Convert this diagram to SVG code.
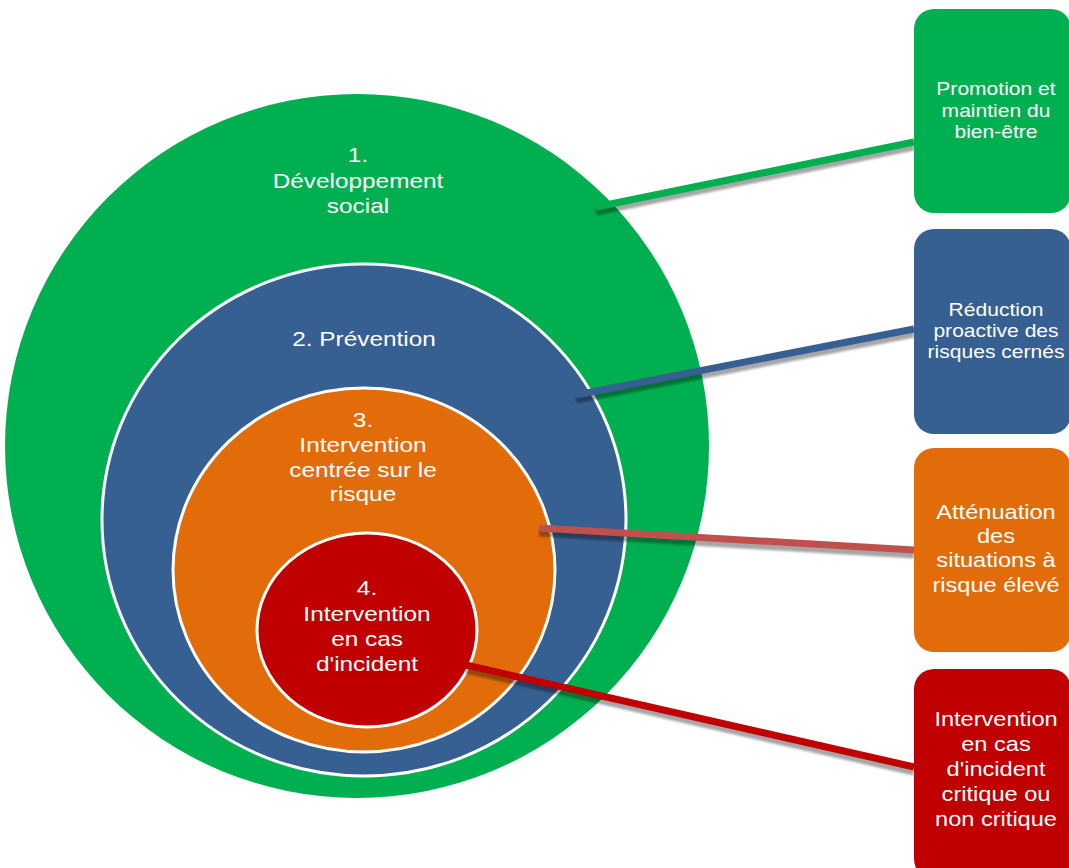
<svg xmlns="http://www.w3.org/2000/svg" width="1069" height="868" viewBox="0 0 1069 868">
<style>
text{font-family:"Liberation Sans",Arial,sans-serif;fill:#FFFFFF;text-anchor:middle}
.c{font-size:21px}
.bs{font-size:18px}
.bl{font-size:20px}
.ring{stroke:#FFFFFF;stroke-width:3}
.sh{stroke:#000000;stroke-opacity:0.35;stroke-width:7;fill:none}
.ln{stroke-width:7;fill:none}
</style>
<defs>
<filter id="blur" x="-5%" y="-50%" width="110%" height="200%"><feGaussianBlur stdDeviation="0.8"/></filter>
</defs>
<rect width="1069" height="868" fill="#FFFFFF"/>

<g id="circle1">
<ellipse cx="357" cy="446" rx="352" ry="352" fill="#00B050"/>
<g transform="translate(358,0) scale(1.16,1)">
<text class="c" x="0" y="162">1.</text>
<text class="c" x="0" y="188">Développement</text>
<text class="c" x="0" y="213">social</text>
</g>
</g>

<g id="circle2">
<ellipse class="ring" cx="364" cy="520" rx="262" ry="256" fill="#376092"/>
<g transform="translate(364,0) scale(1.16,1)">
<text class="c" x="0" y="346">2. Prévention</text>
</g>
</g>

<g id="circle3">
<ellipse class="ring" cx="364" cy="570" rx="191" ry="182" fill="#E36C0A"/>
<g transform="translate(363,0) scale(1.16,1)">
<text class="c" x="0" y="427">3.</text>
<text class="c" x="0" y="452">Intervention</text>
<text class="c" x="0" y="477">centrée sur le</text>
<text class="c" x="0" y="501">risque</text>
</g>
</g>

<g id="circle4">
<ellipse class="ring" cx="367" cy="630" rx="110" ry="97" fill="#C00000"/>
<g transform="translate(367,0) scale(1.16,1)">
<text class="c" x="0" y="595">4.</text>
<text class="c" x="0" y="621">Intervention</text>
<text class="c" x="0" y="646">en cas</text>
<text class="c" x="0" y="671">d'incident</text>
</g>
</g>

<g id="connectors">
<g filter="url(#blur)">
<line class="sh" x1="596" y1="212" x2="914" y2="147"/>
<line class="sh" x1="576" y1="400" x2="914" y2="334"/>
<line class="sh" x1="539" y1="533" x2="914" y2="555"/>
<line class="sh" x1="466" y1="670" x2="914" y2="772"/>
</g>
<line class="ln" x1="596" y1="207" x2="914" y2="142" stroke="#00B050"/>
<line class="ln" x1="576" y1="395" x2="914" y2="329" stroke="#376092"/>
<line class="ln" x1="539" y1="528" x2="914" y2="550" stroke="#C0504D"/>
<line class="ln" x1="466" y1="665" x2="914" y2="767" stroke="#C00000"/>
</g>

<g id="box1">
<rect x="914" y="9" width="157" height="204" rx="20" fill="#00B050"/>
<g transform="translate(996,0) scale(1.17,1)">
<text class="bs" x="0" y="95">Promotion et</text>
<text class="bs" x="0" y="117">maintien du</text>
<text class="bs" x="0" y="138">bien-être</text>
</g>
</g>

<g id="box2">
<rect x="914" y="229" width="157" height="205" rx="20" fill="#376092"/>
<g transform="translate(996,0) scale(1.17,1)">
<text class="bs" x="0" y="316">Réduction</text>
<text class="bs" x="0" y="337">proactive des</text>
<text class="bs" x="0" y="358">risques cernés</text>
</g>
</g>

<g id="box3">
<rect x="914" y="448" width="157" height="204" rx="20" fill="#E36C0A"/>
<g transform="translate(996,0) scale(1.18,1)">
<text class="bl" x="0" y="519">Atténuation</text>
<text class="bl" x="0" y="543">des</text>
<text class="bl" x="0" y="567">situations à</text>
<text class="bl" x="0" y="592">risque élevé</text>
</g>
</g>

<g id="box4">
<rect x="914" y="669" width="157" height="210" rx="20" fill="#C00000"/>
<g transform="translate(996,0) scale(1.18,1)">
<text class="bl" x="0" y="726">Intervention</text>
<text class="bl" x="0" y="751">en cas</text>
<text class="bl" x="0" y="776">d'incident</text>
<text class="bl" x="0" y="801">critique ou</text>
<text class="bl" x="0" y="826">non critique</text>
</g>
</g>
</svg>
